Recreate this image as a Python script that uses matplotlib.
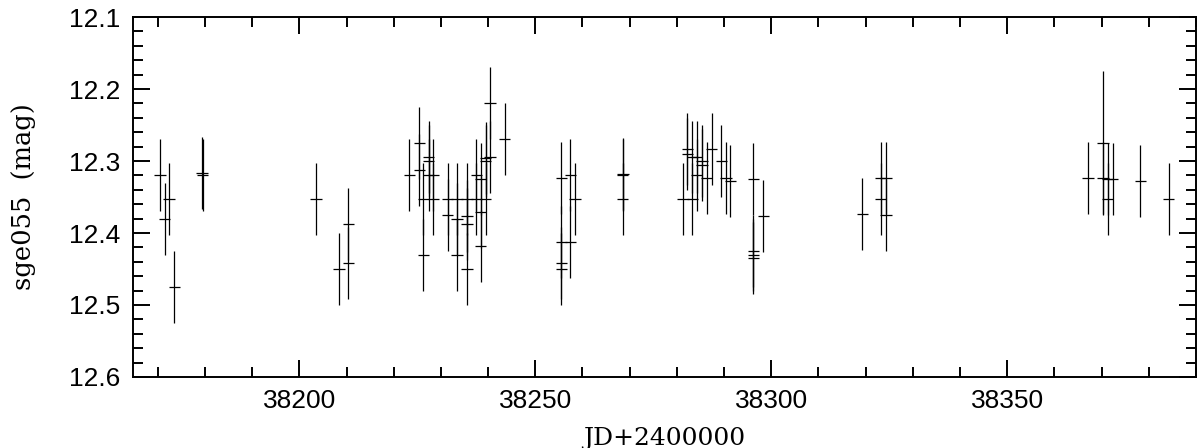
import matplotlib.pyplot as plt
from matplotlib.ticker import MultipleLocator, FormatStrFormatter

# Light curve of sge055 (JD - 2400000, magnitude, error)
jd = [38170.5, 38171.5, 38172.4, 38173.5, 38179.4, 38179.5,
      38203.5, 38208.4, 38210.4, 38210.4,
      38223.3, 38225.4, 38225.4, 38226.3, 38226.3,
      38227.4, 38227.4, 38227.4, 38228.4, 38228.4,
      38231.4, 38231.4, 38233.4, 38233.4, 38233.4,
      38235.5, 38235.5, 38235.5, 38235.5,
      38237.5, 38237.5, 38238.4, 38238.4, 38238.4,
      38239.5, 38239.5, 38239.5, 38240.4, 38240.4, 38243.5,
      38255.5, 38255.5, 38255.5, 38255.5, 38257.4, 38257.4, 38258.4,
      38268.5, 38268.6, 38268.5,
      38281.3, 38282.2, 38282.2, 38283.3, 38283.3, 38284.2, 38284.2,
      38285.3, 38285.3, 38286.3, 38287.4, 38289.4, 38290.4, 38291.3,
      38296.2, 38296.2, 38296.2, 38296.2, 38298.3,
      38319.3, 38323.2, 38323.2, 38324.3, 38324.3,
      38367.1, 38370.3, 38370.3, 38371.3, 38371.3, 38372.3,
      38378.2, 38384.2]
mag = [12.319, 12.381, 12.353, 12.475, 12.317, 12.319,
       12.353, 12.450, 12.388, 12.442,
       12.320, 12.275, 12.312, 12.353, 12.430,
       12.295, 12.300, 12.320, 12.320, 12.353,
       12.353, 12.375, 12.353, 12.381, 12.430,
       12.353, 12.377, 12.387, 12.450,
       12.320, 12.353, 12.325, 12.371, 12.418,
       12.296, 12.300, 12.353, 12.220, 12.295, 12.270,
       12.323, 12.413, 12.442, 12.450, 12.320, 12.413, 12.353,
       12.320, 12.318, 12.353,
       12.353, 12.283, 12.290, 12.295, 12.353, 12.295, 12.320,
       12.300, 12.306, 12.323, 12.283, 12.300, 12.323, 12.328,
       12.325, 12.425, 12.430, 12.435, 12.377,
       12.373, 12.323, 12.353, 12.323, 12.375,
       12.323, 12.275, 12.323, 12.325, 12.353, 12.325,
       12.328, 12.353]
mag_err = [0.05] * len(mag)
mag_err[jd.index(38370.3)] = 0.10
jd_err = 1.2

plt.rcParams['font.family'] = 'Liberation Sans'

fig = plt.figure(figsize=(12, 4.48), dpi=100)
ax = fig.add_axes([0.1108, 0.1585, 0.8859, 0.8035])

ax.errorbar(jd, mag, yerr=mag_err, xerr=jd_err, fmt='none',
            ecolor='black', elinewidth=0.9, capsize=0)

ax.set_xlim(38164.75, 38390)
ax.set_ylim(12.6, 12.1)

ax.xaxis.set_major_locator(MultipleLocator(50))
ax.xaxis.set_minor_locator(MultipleLocator(10))
ax.yaxis.set_major_locator(MultipleLocator(0.1))
ax.yaxis.set_minor_locator(MultipleLocator(0.02))
ax.yaxis.set_major_formatter(FormatStrFormatter('%.1f'))

ax.tick_params(which='both', direction='in', top=True, right=True,
               width=1.4, labelsize=19)
ax.tick_params(which='major', length=12, pad=9)
ax.tick_params(which='minor', length=7)
for s in ax.spines.values():
    s.set_linewidth(1.4)

ax.set_xlabel('JD+2400000', family='DejaVu Serif', fontsize=18, labelpad=10)
ax.set_ylabel('sge055  (mag)', family='DejaVu Serif', fontsize=18.5, labelpad=24)

plt.savefig('out.png')
